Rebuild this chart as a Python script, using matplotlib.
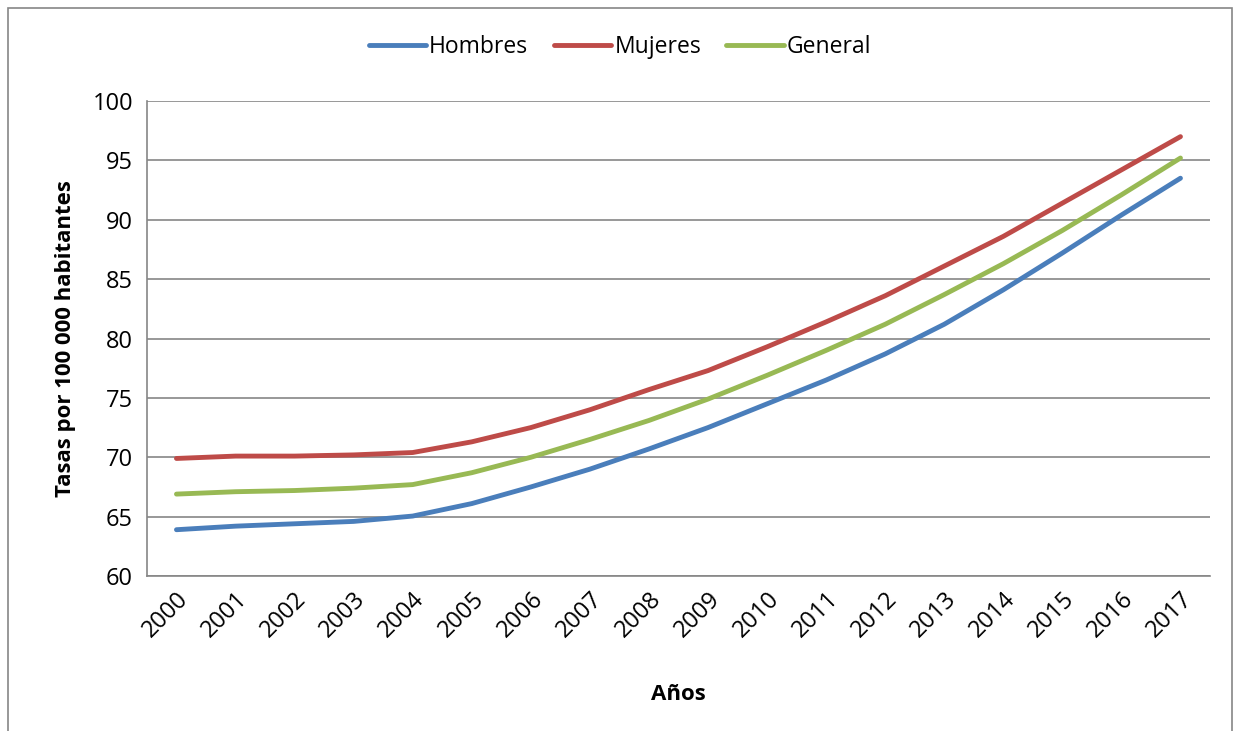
import matplotlib

matplotlib.use("Agg")
import matplotlib.pyplot as plt
from matplotlib.patches import Rectangle

years = [str(y) for y in range(2000, 2018)]
hombres = [63.9, 64.2, 64.4, 64.6, 65.05, 66.1, 67.5, 69.0, 70.7, 72.5,
           74.5, 76.5, 78.7, 81.2, 84.1, 87.2, 90.4, 93.5]
mujeres = [69.9, 70.1, 70.1, 70.2, 70.4, 71.3, 72.5, 74.0, 75.7, 77.3,
           79.3, 81.4, 83.6, 86.1, 88.6, 91.4, 94.2, 97.0]
general = [66.9, 67.1, 67.2, 67.4, 67.7, 68.7, 70.0, 71.5, 73.1, 74.9,
           76.9, 79.0, 81.2, 83.7, 86.3, 89.1, 92.1, 95.2]

plt.rcParams["font.family"] = ["Open Sans", "DejaVu Sans"]

fig = plt.figure(figsize=(12.4, 7.31), dpi=100)
ax = fig.add_axes([0.1185, 0.212, 0.8573, 0.6498])

x = list(range(len(years)))
ax.plot(x, hombres, color="#4a7ebb", lw=3.5, label="Hombres", solid_capstyle="round")
ax.plot(x, mujeres, color="#be4b48", lw=3.5, label="Mujeres", solid_capstyle="round")
ax.plot(x, general, color="#98b954", lw=3.5, label="General", solid_capstyle="round")

ax.set_xlim(-0.5, len(years) - 0.5)
ax.set_ylim(60, 100)
ax.set_yticks(range(60, 101, 5))
ax.set_xticks(x)
ax.set_xticklabels(years, rotation=45, ha="right", rotation_mode="anchor")
ax.tick_params(axis="both", length=0, labelsize=17)
ax.tick_params(axis="y", pad=10)
ax.tick_params(axis="x", pad=8)

ax.grid(True, axis="y", color="#868686", lw=1.2)
ax.set_axisbelow(True)
for side in ("top", "right"):
    ax.spines[side].set_visible(False)
for side in ("left", "bottom"):
    ax.spines[side].set_color("#868686")
    ax.spines[side].set_linewidth(1.2)

ax.set_ylabel("Tasas por 100 000 habitantes", fontsize=16, fontweight="bold", labelpad=12)
ax.set_xlabel("Años", fontsize=16, fontweight="bold", labelpad=30)

fig.legend(loc="center", bbox_to_anchor=(0.5, 1 - 47 / 731), ncol=3, frameon=False,
           fontsize=16.5, handlelength=2.5, handletextpad=0.15, columnspacing=1.1)

fig.patches.append(Rectangle((8 / 1240, -0.01), 1224 / 1240, 1 - 8 / 731 + 0.01,
                             transform=fig.transFigure, fill=False,
                             edgecolor="#868686", lw=1.2))

fig.savefig("out.png", dpi=100)
